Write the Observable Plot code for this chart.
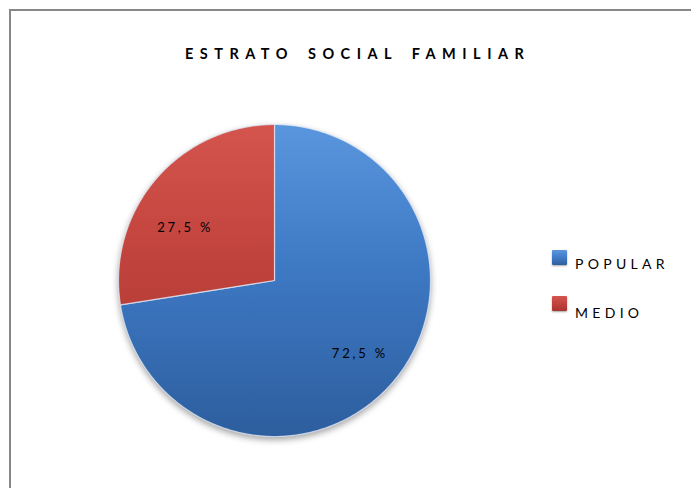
<!DOCTYPE html>
<html><head><meta charset="utf-8">
<script src="https://cdn.jsdelivr.net/npm/d3@7"></script>
<script src="https://cdn.jsdelivr.net/npm/@observablehq/plot@0.6"></script>
<style>
body{margin:0;background:#fff;font-family:Lato,"Open Sans",sans-serif;color:#000;}
#wrap{position:relative;width:691px;height:488px;overflow:hidden;background:#fff;}
#frame{position:absolute;left:9px;top:9px;width:720px;height:520px;border:2px solid #878787;}
#title{position:absolute;left:185px;top:47px;font-weight:bold;font-size:14.5px;line-height:14px;letter-spacing:6.5px;word-spacing:4px;white-space:nowrap;}
#chart{position:absolute;left:0;top:0;}
#legend{position:absolute;left:0;top:0;}
.sw{position:absolute;left:552px;width:15px;height:15px;border-radius:1px;box-shadow:0 1px 2px rgba(0,0,0,0.35);}
.lb{position:absolute;left:575px;font-size:14px;line-height:14px;letter-spacing:4.3px;white-space:nowrap;}
</style></head>
<body>
<div id="wrap">
  <div id="frame"></div>
  <div id="title">ESTRATO SOCIAL FAMILIAR</div>
  <div id="chart"></div>
  <div id="legend"></div>
</div>
<script>
const categories = ["POPULAR", "MEDIO"];
const values = [72.5, 27.5];
const labels = ["72,5 %", "27,5 %"];
const baseColors = ["#3e79c4", "#c0423c"];
const lightColors = ["#5a96de", "#d4554d"];
const darkColors = ["#2d5e9e", "#a8352f"];

const total = d3.sum(values);
let cum = 0;
const points = [];
const labelRows = [];
categories.forEach((cat, i) => {
  const a0 = cum / total * 2 * Math.PI;
  cum += values[i];
  const a1 = cum / total * 2 * Math.PI;
  points.push({cat, x: 0, y: 0});
  const n = Math.max(2, Math.ceil((a1 - a0) / (Math.PI / 180)));
  for (let k = 0; k <= n; k++) {
    const a = a0 + (a1 - a0) * k / n;
    points.push({cat, x: Math.sin(a), y: Math.cos(a)});
  }
  const am = (a0 + a1) / 2;
  const rr = i === 0 ? 0.72 : 0.66;
  labelRows.push({cat, label: labels[i], x: Math.sin(am) * rr, y: Math.cos(am) * rr});
});

const textOpts = {x: "x", y: "y", text: "label", fontSize: 13, fontFamily: "Lato, 'Open Sans', sans-serif", fill: "#000"};
const chart = Plot.plot({
  width: 691,
  height: 488,
  marginLeft: 118,
  marginRight: 261,
  marginTop: 124,
  marginBottom: 52,
  style: {background: "transparent", overflow: "visible"},
  x: {domain: [-1, 1], axis: null},
  y: {domain: [-1, 1], axis: null},
  color: {domain: categories, range: categories.map((c, i) => `url(#grad${i})`)},
  marks: [
    Plot.line(points, {x: "x", y: "y", z: "cat", fill: "cat", stroke: "rgba(225,235,250,0.75)", strokeWidth: 1.2, curve: "linear-closed"}),
    Plot.text(labelRows.filter(d => d.cat === categories[0]), textOpts),
    Plot.text(labelRows.filter(d => d.cat === categories[1]), {...textOpts, dx: -11, dy: 14})
  ]
});

// gradients derived from the scales
const ys = chart.scale("y");
const ns = "http://www.w3.org/2000/svg";
const defs = document.createElementNS(ns, "defs");
categories.forEach((c, i) => {
  const g = document.createElementNS(ns, "linearGradient");
  g.setAttribute("id", `grad${i}`);
  g.setAttribute("gradientUnits", "userSpaceOnUse");
  g.setAttribute("x1", 0); g.setAttribute("x2", 0);
  g.setAttribute("y1", ys.apply(1)); g.setAttribute("y2", ys.apply(-1));
  [[0, lightColors[i]], [0.45, baseColors[i]], [1, darkColors[i]]].forEach(([o, col]) => {
    const s = document.createElementNS(ns, "stop");
    s.setAttribute("offset", o); s.setAttribute("stop-color", col);
    g.appendChild(s);
  });
  defs.appendChild(g);
});
chart.insertBefore(defs, chart.firstChild);
const lineG = chart.querySelector('g[aria-label="line"]');
if (lineG) lineG.style.filter = "drop-shadow(0px 3px 3px rgba(0,0,0,0.35))";
chart.querySelectorAll('g[aria-label="text"]').forEach(g => g.style.letterSpacing = "2.8px");
document.getElementById("chart").appendChild(chart);

const legend = document.getElementById("legend");
categories.forEach((c, i) => {
  const sw = document.createElement("div");
  sw.className = "sw";
  sw.style.top = (250 + 46 * i) + "px";
  sw.style.background = `linear-gradient(${lightColors[i]}, ${baseColors[i]} 55%, ${darkColors[i]})`;
  const lb = document.createElement("div");
  lb.className = "lb";
  lb.style.top = (257 + 48.5 * i) + "px";
  lb.textContent = c;
  legend.appendChild(sw); legend.appendChild(lb);
});
</script>
</body></html>
